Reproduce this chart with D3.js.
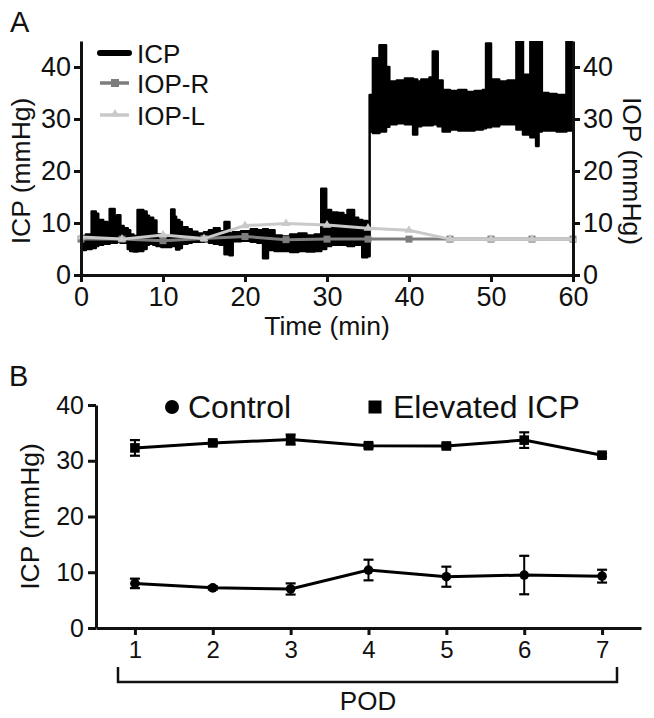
<!DOCTYPE html>
<html><head><meta charset="utf-8">
<script src="https://cdn.jsdelivr.net/npm/d3@7"></script>
<style>
body{margin:0;background:#fff}
svg{display:block}
text{font-family:"Liberation Sans",Arial,Helvetica,sans-serif;fill:#111}
</style>
</head><body>
<svg id="chart" width="654" height="718"></svg>
<script>
// ---------- Panel A data (ICP trace envelope, min) ----------
const icpTime = [0.0,0.6,1.3,1.8,2.1,2.7,3.2,3.5,4.1,4.4,4.8,5.2,5.7,6.0,6.4,6.9,7.6,8.0,8.3,8.8,9.2,9.8,10.4,11.0,11.4,11.6,12.0,12.3,13.0,13.5,14.2,15.0,15.6,16.2,16.9,17.5,18.1,18.5,19.5,20.7,21.5,22.2,22.8,23.6,24.5,25.5,26.5,27.5,28.5,29.3,29.9,30.5,31.3,32.0,32.5,33.3,33.8,34.3,34.9,35.2,35.6,36.4,37.2,37.6,38.5,39.5,40.5,41.0,41.5,42.5,42.9,43.5,44.1,45.0,46.0,47.0,48.0,49.0,49.4,50.0,51.0,52.0,53.1,53.9,54.8,55.5,55.8,56.2,57.0,58.0,59.2,60.0];
const icpHigh = [7.5,7.8,12.2,11.8,10.6,10.2,9.8,12.7,11.0,11.5,9.4,9.0,8.6,7.8,7.5,12.5,12.2,11.4,11.0,10.5,7.8,7.6,7.4,12.6,11.2,10.6,10.2,9.2,8.8,8.3,8.0,8.2,8.6,9.0,8.4,10.2,8.0,8.2,8.4,8.8,8.6,8.8,8.6,7.6,7.4,7.8,8.0,7.6,7.8,16.6,12.5,12.0,11.9,11.5,12.5,11.0,10.6,10.4,10.2,34.6,41.7,44.2,40.0,37.2,37.4,37.8,37.6,37.2,37.6,38.0,43.0,37.4,35.6,35.4,35.6,35.2,35.4,35.6,44.5,37.6,37.2,37.4,46.0,38.5,46.0,44.0,46.0,35.0,34.8,34.6,46.0,46.0];
const icpLow  = [4.8,5.0,5.2,5.6,5.8,6.0,6.0,6.2,6.2,6.4,6.2,6.2,5.0,4.6,4.5,4.6,5.0,5.8,6.0,5.8,5.6,5.4,5.4,5.6,5.8,4.9,5.2,6.0,6.2,6.4,6.4,6.5,6.2,6.0,5.8,4.0,3.8,6.5,6.6,6.4,6.2,3.2,4.8,4.6,4.6,4.4,4.6,4.5,4.6,5.0,5.6,5.8,5.8,5.8,5.6,5.8,5.8,3.4,3.6,27.6,27.3,27.6,28.5,29.0,29.2,29.0,27.0,28.6,28.8,28.8,29.0,28.6,27.6,28.0,27.8,27.8,28.0,28.2,28.4,28.6,29.0,29.0,28.0,27.0,26.5,24.8,27.6,27.8,27.8,27.6,27.8,28.0];
const iopTime = [0,5,10,15,20,25,30,35,40,45,50,55,60];
const iopR    = [6.9,6.9,6.6,7.0,7.4,6.8,6.9,6.9,6.9,6.9,6.9,6.9,6.9];
const iopL    = [7.3,6.9,7.7,7.0,9.5,9.9,9.6,9.0,8.6,6.9,6.9,6.9,6.9];
const aTicksX = [0,10,20,30,40,50,60];
const aTicksY = [0,10,20,30,40];
const aSeries = ["ICP","IOP-R","IOP-L"];

// ---------- Panel B data ----------
const pod = [1,2,3,4,5,6,7];
const controlMean  = [8.0,7.2,7.0,10.4,9.2,9.5,9.3];
const controlErr   = [0.85,0.3,1.0,1.85,1.8,3.45,1.15];
const elevatedMean = [32.3,33.2,33.8,32.7,32.65,33.7,31.0];
const elevatedErr  = [1.4,0.4,0.9,0.4,0.4,1.4,0.3];
const bTicksY = [0,10,20,30,40];
const bSeries = ["Control","Elevated ICP"];

const svg = d3.select("#chart");
const colR = "#7d7d7d", colL = "#c9c9c9";

function styleAxis(g, fs){
  g.select(".domain").attr("stroke","#111").attr("stroke-width",3);
  g.selectAll(".tick line").attr("stroke","#111").attr("stroke-width",3);
  g.selectAll(".tick text").attr("font-size",fs).attr("fill","#111")
   .attr("font-family","'Liberation Sans',Arial,sans-serif");
}

// ================= Panel A =================
const xA = d3.scaleLinear().domain([0,60]).range([81,573]);
const yA = d3.scaleLinear().domain([0,45]).range([275,41]);

svg.append("defs").append("clipPath").attr("id","clipA")
  .append("rect").attr("x",xA(0)).attr("y",yA(45)).attr("width",xA(60)-xA(0)).attr("height",yA(0)-yA(45));

const icpData = icpTime.map((t,i)=>({t,hi:icpHigh[i],lo:icpLow[i]}));
svg.append("path").datum(icpData)
  .attr("clip-path","url(#clipA)")
  .attr("fill","#000").attr("stroke","#000").attr("stroke-width",2.5).attr("stroke-linejoin","round")
  .attr("d", d3.area().curve(d3.curveStepAfter).x(d=>xA(d.t)).y0(d=>yA(d.lo)).y1(d=>yA(d.hi)));

const lineA = d3.line().x(d=>xA(d.t)).y(d=>yA(d.v));
const rData = iopTime.map((t,i)=>({t,v:iopR[i]}));
const lData = iopTime.map((t,i)=>({t,v:iopL[i]}));
svg.append("path").datum(rData).attr("fill","none").attr("stroke",colR).attr("stroke-width",3).attr("d",lineA);
svg.selectAll(".sqR").data(rData).enter().append("rect")
  .attr("x",d=>xA(d.t)-3.5).attr("y",d=>yA(d.v)-3.5).attr("width",7).attr("height",7).attr("fill",colR);
svg.append("path").datum(lData).attr("fill","none").attr("stroke",colL).attr("stroke-width",3).attr("d",lineA);
const tri = d3.symbol().type(d3.symbolTriangle).size(34);
svg.selectAll(".triL").data(lData).enter().append("path")
  .attr("transform",d=>`translate(${xA(d.t)},${yA(d.v)})`).attr("d",tri).attr("fill",colL);

const axL = svg.append("g").attr("transform",`translate(${xA(0)},0)`)
  .call(d3.axisLeft(yA).tickValues(aTicksY).tickSize(7).tickSizeOuter(0).tickPadding(3));
styleAxis(axL,27);
const axR = svg.append("g").attr("transform",`translate(${xA(60)},0)`)
  .call(d3.axisRight(yA).tickValues(aTicksY).tickSize(7).tickSizeOuter(0).tickPadding(3));
styleAxis(axR,27);
const axB = svg.append("g").attr("transform",`translate(0,${yA(0)})`)
  .call(d3.axisBottom(xA).tickValues(aTicksX).tickSize(7).tickSizeOuter(0).tickPadding(5));
styleAxis(axB,27);

svg.append("text").attr("x",10).attr("y",32).attr("font-size",29).text("A");
svg.append("text").attr("transform","translate(30,171) rotate(-90)").attr("text-anchor","middle")
  .attr("font-size",26.5).text("ICP (mmHg)");
svg.append("text").attr("transform","translate(623,171) rotate(90)").attr("text-anchor","middle")
  .attr("font-size",26.5).text("IOP (mmHg)");
svg.append("text").attr("x",(xA(0)+xA(60))/2).attr("y",335).attr("text-anchor","middle")
  .attr("font-size",26.5).text("Time (min)");

// legend A
const legA = [53,83,115];
svg.append("line").attr("x1",100).attr("x2",129).attr("y1",legA[0]).attr("y2",legA[0])
  .attr("stroke","#000").attr("stroke-width",6).attr("stroke-linecap","round");
svg.append("line").attr("x1",100).attr("x2",129).attr("y1",legA[1]).attr("y2",legA[1])
  .attr("stroke",colR).attr("stroke-width",3.5);
svg.append("rect").attr("x",111).attr("y",legA[1]-4).attr("width",8).attr("height",8).attr("fill",colR);
svg.append("line").attr("x1",100).attr("x2",129).attr("y1",legA[2]).attr("y2",legA[2])
  .attr("stroke",colL).attr("stroke-width",3.5);
svg.append("path").attr("transform",`translate(115,${legA[2]-1})`).attr("d",tri).attr("fill",colL);
aSeries.forEach((s,i)=>{
  svg.append("text").attr("x",137).attr("y",legA[i]+10).attr("font-size",26).text(s);
});

// ================= Panel B =================
const xB = d3.scaleLinear().domain([0.5,7.5]).range([96,641]);
const yB = d3.scaleLinear().domain([0,40]).range([628,405]);

const lineB = d3.line().x((d,i)=>xB(pod[i])).y(d=>yB(d));
function drawSeries(means, errs, shape){
  svg.append("path").datum(means).attr("fill","none").attr("stroke","#000").attr("stroke-width",3).attr("d",lineB);
  const g = svg.append("g");
  means.forEach((m,i)=>{
    const x = xB(pod[i]), y1 = yB(m+errs[i]), y2 = yB(m-errs[i]);
    g.append("line").attr("x1",x).attr("x2",x).attr("y1",y1).attr("y2",y2).attr("stroke","#000").attr("stroke-width",2);
    [y1,y2].forEach(yy=>g.append("line").attr("x1",x-5).attr("x2",x+5).attr("y1",yy).attr("y2",yy).attr("stroke","#000").attr("stroke-width",2.2));
    if(shape==="circle") g.append("circle").attr("cx",x).attr("cy",yB(m)).attr("r",4.8).attr("fill","#000");
    else g.append("rect").attr("x",x-4.8).attr("y",yB(m)-4.8).attr("width",9.6).attr("height",9.6).attr("fill","#000");
  });
}
drawSeries(elevatedMean, elevatedErr, "square");
drawSeries(controlMean, controlErr, "circle");

const bxL = svg.append("g").attr("transform",`translate(${xB(0.5)},0)`)
  .call(d3.axisLeft(yB).tickValues(bTicksY).tickSize(8).tickSizeOuter(0).tickPadding(4));
styleAxis(bxL,25);
const bxB = svg.append("g").attr("transform",`translate(0,${yB(0)})`)
  .call(d3.axisBottom(xB).tickValues(pod).tickFormat(d3.format("d")).tickSize(7).tickSizeOuter(0).tickPadding(6));
styleAxis(bxB,24);

svg.append("text").attr("x",9).attr("y",386).attr("font-size",29).text("B");
svg.append("text").attr("transform",`translate(39,${(yB(0)+yB(40))/2}) rotate(-90)`).attr("text-anchor","middle")
  .attr("font-size",26.5).text("ICP (mmHg)");

// bracket
svg.append("path").attr("d","M118,667 V682 H617 V667").attr("fill","none").attr("stroke","#111").attr("stroke-width",2.5);
svg.append("text").attr("x",368).attr("y",710).attr("text-anchor","middle").attr("font-size",26).text("POD");

// legend B
svg.append("circle").attr("cx",172).attr("cy",407).attr("r",7).attr("fill","#000");
svg.append("text").attr("x",188).attr("y",418).attr("font-size",32).text(bSeries[0]);
svg.append("rect").attr("x",368.5).attr("y",400.5).attr("width",13).attr("height",13).attr("fill","#000");
svg.append("text").attr("x",393).attr("y",418).attr("font-size",32).text(bSeries[1]);
</script>
</body></html>
